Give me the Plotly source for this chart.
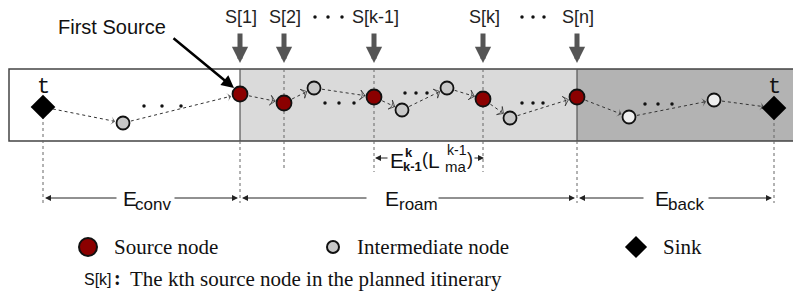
import math
import plotly.graph_objects as go

W, H = 801, 298
PAGE_MARGIN = 8  # browser body margin

# ---------------- data ----------------
source_labels = ["S[1]", "S[2]", "S[k-1]", "S[k]", "S[n]"]
source_x = [240, 284, 374, 483, 577]
source_y = [94, 103, 97, 99, 97]
inter_x = [123, 314, 402, 447, 510, 629, 714]
inter_y = [123, 88, 110, 88, 118, 117, 100]
sink_x = [43, 774]
sink_y = [107, 108]
path_nodes = [("t", 0), ("i", 0), ("s", 0), ("s", 1), ("i", 1), ("s", 2), ("i", 2),
              ("i", 3), ("s", 3), ("i", 4), ("s", 4), ("i", 5), ("i", 6), ("t", 1)]
open_edges = [2, 3, 4, 5, 6, 7, 8, 9]
ellipsis_x = [[144, 162, 181], [325, 339, 354], [405, 416, 427], [522, 533, 543], [645, 658, 672]]
ellipsis_y = [106, 103, 93, 103, 104]
top_ellipsis_x = [[315, 328, 342], [522, 533, 544]]
region_bounds = [9, 240, 577, 800]
region_fill = ["#ffffff", "#dadada", "#b3b3b3"]
dim_main = ["E", "E", "E"]
dim_sub = ["conv", "roam", "back"]
dim_from = [43, 240, 577]
dim_to = [240, 577, 774]
dim_gap = [(118, 173), (368, 437), (645, 707)]
dim_main_x = [121, 383, 653]
dim_sub_x = [133, 397, 666]

RECT_TOP, RECT_BOT = 69, 141
SANS = "Liberation Sans, Arial"
SERIF = "Liberation Serif, Times New Roman, serif"

fig = go.Figure()
shapes = []
ann = []

# regions
for i in range(3):
    shapes.append(dict(type="rect", xref="x", yref="y", x0=region_bounds[i], x1=region_bounds[i + 1],
                       y0=RECT_TOP, y1=RECT_BOT, fillcolor=region_fill[i], line=dict(width=0), layer="below"))
shapes.append(dict(type="rect", xref="x", yref="y", x0=region_bounds[0], x1=region_bounds[3],
                   y0=RECT_TOP, y1=RECT_BOT, line=dict(color="#444", width=1.5), layer="below"))
for xb in region_bounds[1:3]:
    shapes.append(dict(type="line", xref="x", yref="y", x0=xb, x1=xb, y0=RECT_TOP, y1=RECT_BOT,
                       line=dict(color="#555", width=1.2), layer="below"))

# vertical dotted guide lines
guides = [(sink_x[0], sink_y[0] + 9, 203), (source_x[0], RECT_BOT, 203), (source_x[1], RECT_TOP, 168),
          (source_x[2], RECT_TOP, 172), (source_x[3], RECT_TOP, 172), (source_x[4], RECT_BOT, 203),
          (sink_x[1], sink_y[1] + 9, 203)]
for gx, g0, g1 in guides:
    shapes.append(dict(type="line", xref="x", yref="y", x0=gx, x1=gx, y0=g0, y1=g1,
                       line=dict(color="#666", width=1, dash="dot"), layer="below"))


def node_xy(kind, idx):
    if kind == "t":
        return sink_x[idx], sink_y[idx], 9
    if kind == "s":
        return source_x[idx], source_y[idx], 8
    return inter_x[idx], inter_y[idx], 7


# edges
for e in range(len(path_nodes) - 1):
    x0, y0, r0 = node_xy(*path_nodes[e])
    x1, y1, r1 = node_xy(*path_nodes[e + 1])
    d = math.hypot(x1 - x0, y1 - y0)
    ux, uy = (x1 - x0) / d, (y1 - y0) / d
    sx, sy = x0 + ux * (r0 + 1), y0 + uy * (r0 + 1)
    ex, ey = x1 - ux * (r1 + 1), y1 - uy * (r1 + 1)
    is_open = e in open_edges
    fig.add_trace(go.Scatter(
        x=[sx, ex], y=[sy, ey], mode="lines+markers",
        line=dict(color="#333", width=1, dash="dot"),
        marker=dict(symbol="arrow-wide-open" if is_open else "arrow-wide", size=[0, 7 if is_open else 6],
                    angleref="previous", color="#222",
                    line=dict(width=1 if is_open else 0, color="#222")),
        hoverinfo="skip", showlegend=False))

# ellipsis dots
for gx, gy in zip(ellipsis_x, ellipsis_y):
    fig.add_trace(go.Scatter(x=gx, y=[gy] * len(gx), mode="markers",
                             marker=dict(color="#111", size=3.5), hoverinfo="skip", showlegend=False))
for gx in top_ellipsis_x:
    fig.add_trace(go.Scatter(x=gx, y=[17] * len(gx), mode="markers",
                             marker=dict(color="#111", size=3.5), hoverinfo="skip", showlegend=False))

# nodes
fig.add_trace(go.Scatter(x=inter_x, y=inter_y, mode="markers",
                         marker=dict(size=13, color=["#eeeeee" if x > region_bounds[2] else "#c8c8c8" for x in inter_x],
                                     line=dict(color="#111", width=1.8)),
                         hoverinfo="skip", showlegend=False))
fig.add_trace(go.Scatter(x=source_x, y=source_y, mode="markers",
                         marker=dict(size=15, color="#8b0000", line=dict(color="#111", width=1.8)),
                         hoverinfo="skip", showlegend=False))
fig.add_trace(go.Scatter(x=sink_x, y=sink_y, mode="markers",
                         marker=dict(size=19, symbol="diamond", color="#000", line=dict(width=0)),
                         hoverinfo="skip", showlegend=False))

# sink labels
for x in sink_x:
    ann.append(dict(x=x, y=87, text="t", showarrow=False, xref="x", yref="y",
                    font=dict(family="Liberation Mono, Courier New, monospace", size=22, color="#111")))

# source labels and gray arrows
for lab, x in zip(source_labels, source_x):
    ann.append(dict(x=x + 1, y=17, text=lab, showarrow=False, xref="x", yref="y",
                    font=dict(family=SANS, size=18, color="#222")))
    ann.append(dict(x=x, y=63, ax=x, ay=32, axref="x", ayref="y", xref="x", yref="y", text="",
                    showarrow=True, arrowhead=2, arrowsize=0.65, arrowwidth=5, arrowcolor="#555"))

# First Source
ann.append(dict(x=112, y=27, text="First Source", showarrow=False, xref="x", yref="y",
                font=dict(family=SANS, size=20, color="#111")))
ann.append(dict(x=source_x[0] - 6, y=source_y[0] - 6, ax=172, ay=37, axref="x", ayref="y", xref="x", yref="y",
                text="", showarrow=True, arrowhead=2, arrowsize=1.0, arrowwidth=2.5, arrowcolor="#000"))

# dimension arrows (two segments each, leaving a gap for the label)
DIM_Y = 198
for a, b, (g0, g1), mx, sx_, m, s in zip(dim_from, dim_to, dim_gap, dim_main_x, dim_sub_x, dim_main, dim_sub):
    ann.append(dict(x=a + 2, y=DIM_Y, ax=g0, ay=DIM_Y, axref="x", ayref="y", xref="x", yref="y", text="",
                    showarrow=True, arrowhead=2, arrowsize=1.2, arrowwidth=1, arrowcolor="#222"))
    ann.append(dict(x=b - 2, y=DIM_Y, ax=g1, ay=DIM_Y, axref="x", ayref="y", xref="x", yref="y", text="",
                    showarrow=True, arrowhead=2, arrowsize=1.2, arrowwidth=1, arrowcolor="#222"))
    ann.append(dict(x=mx, y=198, text=m, showarrow=False, xref="x", yref="y", xanchor="left",
                    font=dict(family=SANS, size=21, color="#111")))
    ann.append(dict(x=sx_, y=204, text=s, showarrow=False, xref="x", yref="y", xanchor="left",
                    font=dict(family=SANS, size=17, color="#111")))

# E^k_{k-1}(L^{k-1}_{ma}) label
EK_Y = 158
ann.append(dict(x=source_x[2] + 1, y=EK_Y, ax=389, ay=EK_Y, axref="x", ayref="y", xref="x", yref="y", text="",
                showarrow=True, arrowhead=2, arrowsize=1.2, arrowwidth=1, arrowcolor="#222"))
ann.append(dict(x=source_x[3] + 1, y=EK_Y, ax=473, ay=EK_Y, axref="x", ayref="y", xref="x", yref="y", text="",
                showarrow=True, arrowhead=2, arrowsize=1.2, arrowwidth=1, arrowcolor="#222"))
ek_parts = [(397, 160, "E", 21, False), (409, 152, "k", 13, True), (412, 166, "k-1", 13, True),
            (425, 159, "(", 18, False), (434, 160, "L", 21, False), (457, 150, "k-1", 14, False),
            (455, 166, "ma", 15, False), (470, 159, ")", 18, False)]
for px, py, t, sz, bold in ek_parts:
    ann.append(dict(x=px, y=py, text=f"<b>{t}</b>" if bold else t, showarrow=False, xref="x", yref="y",
                    font=dict(family=SANS, size=sz, color="#111")))

# legend
LEG_Y = 247
fig.add_trace(go.Scatter(x=[88], y=[LEG_Y], mode="markers",
                         marker=dict(size=18, color="#8b0000", line=dict(color="#111", width=2)),
                         hoverinfo="skip", showlegend=False))
fig.add_trace(go.Scatter(x=[333], y=[LEG_Y], mode="markers",
                         marker=dict(size=12, color="#c8c8c8", line=dict(color="#111", width=2)),
                         hoverinfo="skip", showlegend=False))
fig.add_trace(go.Scatter(x=[636], y=[LEG_Y], mode="markers",
                         marker=dict(size=17, symbol="diamond", color="#000"),
                         hoverinfo="skip", showlegend=False))
for lx, t in [(112, "Source node"), (355, "Intermediate node"), (661, "Sink")]:
    ann.append(dict(x=lx, y=LEG_Y, text=t, showarrow=False, xref="x", yref="y", xanchor="left",
                    font=dict(family=SERIF, size=21, color="#111")))

NOTE_Y = 279
ann.append(dict(x=82, y=NOTE_Y, text="S[k]", showarrow=False, xref="x", yref="y", xanchor="left",
                font=dict(family=SANS, size=16, color="#111")))
ann.append(dict(x=117, y=NOTE_Y - 1, text="<b>:</b>", showarrow=False, xref="x", yref="y", xanchor="center",
                font=dict(family=SERIF, size=20, color="#111")))
ann.append(dict(x=128, y=NOTE_Y, text="The kth source node in the planned itinerary", showarrow=False,
                xref="x", yref="y", xanchor="left",
                font=dict(family=SERIF, size=21, color="#111")))

# the page has an 8px body margin; size/range chosen so data units equal screenshot pixels
fig.update_layout(
    width=W - PAGE_MARGIN, height=H - PAGE_MARGIN, margin=dict(l=0, r=0, t=0, b=0),
    paper_bgcolor="white", plot_bgcolor="white",
    xaxis=dict(range=[PAGE_MARGIN, W], visible=False, fixedrange=True),
    yaxis=dict(range=[H, PAGE_MARGIN], visible=False, fixedrange=True),
    shapes=shapes, annotations=ann, showlegend=False,
)
fig.write_html("out.html")
